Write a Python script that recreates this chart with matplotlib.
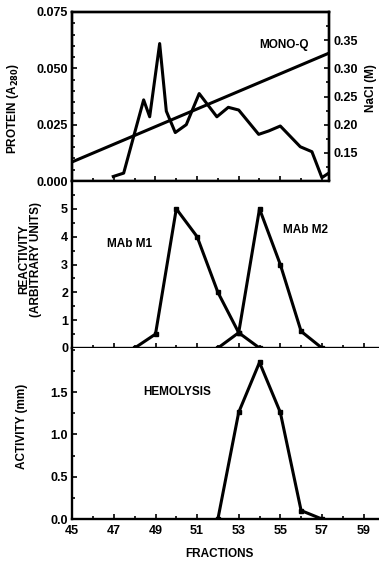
import numpy as np
import matplotlib.pyplot as plt
from matplotlib.ticker import MultipleLocator, FixedLocator

plt.rcParams['font.family'] = ['Liberation Sans', 'DejaVu Sans']
plt.rcParams['font.weight'] = 'bold'
plt.rcParams['axes.labelweight'] = 'bold'

# Mono-Q protein trace (A280)
protein_frac = [46.97, 47.47, 48.43, 48.72, 49.2, 49.52, 49.95, 50.48, 51.1,
                51.95, 52.5, 53.0, 53.96, 54.44, 55.0, 55.96, 56.52, 57.0, 57.33]
protein_a280 = [0.002, 0.0035, 0.036, 0.0285, 0.061, 0.031, 0.0215, 0.025, 0.0388,
                0.0285, 0.0327, 0.0315, 0.0207, 0.0222, 0.0244, 0.0152, 0.013, 0.0015, 0.0035]

# NaCl gradient (M)
nacl_frac = [45.0, 57.34]
nacl_m = [0.134, 0.327]

# MAb reactivity
m1_frac = [48, 49, 50, 51, 52, 53, 54]
m1_val = [0, 0.5, 5, 4, 2, 0.55, 0]
m2_frac = [52, 53, 54, 55, 56, 57]
m2_val = [0, 0.55, 5, 3, 0.6, 0]

# hemolysis activity
hemo_frac = [52, 53, 54, 55, 56, 57]
hemo_val = [0, 1.26, 1.85, 1.26, 0.1, 0]

xticks = [45, 47, 49, 51, 53, 55, 57, 59]

fig = plt.figure(figsize=(3.79, 5.61), dpi=100)
W, H = 379, 561
left = 72.3
px_per = 20.8

def box(x0, x1, ytop, ybot):
    return [x0 / W, 1 - ybot / H, (x1 - x0) / W, (ybot - ytop) / H]

ax1 = fig.add_axes(box(left, 329, 12, 181))
ax2 = fig.add_axes(box(left, 379, 181, 348))
ax3 = fig.add_axes(box(left, 379, 348, 519))

lw = 2.2
sw = 1.7

def style(ax):
    for s in ax.spines.values():
        s.set_linewidth(sw)
    ax.tick_params(which='both', direction='in', width=1.2, labelsize=9, pad=3)
    ax.tick_params(which='major', length=3.5)
    ax.tick_params(which='minor', length=2.5)
    ax.xaxis.set_major_locator(FixedLocator(xticks))
    ax.xaxis.set_minor_locator(MultipleLocator(1))

# top panel
ax1.plot(protein_frac, protein_a280, color='black', lw=lw)
ax1.set_xlim(45, 45 + (329 - left) / px_per)
ax1.set_ylim(0, 0.075)
ax1.set_yticks([0, 0.025, 0.05, 0.075])
ax1.set_yticklabels(['0.000', '0.025', '0.050', '0.075'])
ax1.yaxis.set_minor_locator(MultipleLocator(0.005))
style(ax1)
ax1.tick_params(labelbottom=False)
ax1.set_ylabel('PROTEIN (A$_{\\mathbf{280}}$)', fontsize=8.5)
ax1.yaxis.set_label_coords(-0.20, 0.43)
ax1.text(55.2, 0.0604, 'MONO-Q', ha='center', va='center', fontsize=8.5, fontweight='bold')

axr = ax1.twinx()
axr.plot(nacl_frac, nacl_m, color='black', lw=lw)
axr.set_ylim(0.10, 0.40)
axr.set_yticks([0.15, 0.20, 0.25, 0.30, 0.35])
axr.set_yticklabels(['0.15', '0.20', '0.25', '0.30', '0.35'])
axr.yaxis.set_minor_locator(MultipleLocator(0.025))
for s in axr.spines.values():
    s.set_linewidth(sw)
axr.tick_params(which='both', direction='in', width=1.2, labelsize=9, pad=3)
axr.tick_params(which='major', length=3.5)
axr.tick_params(which='minor', length=2.5)
axr.set_ylabel('NaCl (M)', fontsize=8.5)
axr.yaxis.set_label_coords(1.14, 0.55)

# middle panel
ax2.plot(m1_frac, m1_val, color='black', lw=lw, marker='s', ms=3.5)
ax2.plot(m2_frac, m2_val, color='black', lw=lw, marker='s', ms=3.5)
ax2.set_xlim(45, 45 + (379 - left) / px_per)
ax2.set_ylim(0, 6)
ax2.set_yticks([0, 1, 2, 3, 4, 5])
ax2.yaxis.set_minor_locator(MultipleLocator(0.5))
ax2.spines['top'].set_visible(False)
ax2.spines['right'].set_visible(False)
style(ax2)
ax2.tick_params(labelbottom=False)
ax2.set_ylabel('REACTIVITY\n(ARBITRARY UNITS)', fontsize=8.5, linespacing=1.0)
ax2.yaxis.set_label_coords(-0.099, 0.53)
ax2.text(47.77, 3.75, 'MAb M1', ha='center', va='center', fontsize=8.5, fontweight='bold')
ax2.text(56.19, 4.25, 'MAb M2', ha='center', va='center', fontsize=8.5, fontweight='bold')

# bottom panel
ax3.plot(hemo_frac, hemo_val, color='black', lw=lw, marker='s', ms=3.5)
ax3.set_xlim(45, 45 + (379 - left) / px_per)
ax3.set_ylim(0, 2.02)
ax3.set_yticks([0, 0.5, 1.0, 1.5])
ax3.set_yticklabels(['0.0', '0.5', '1.0', '1.5'])
ax3.yaxis.set_minor_locator(MultipleLocator(0.25))
ax3.spines['top'].set_visible(False)
ax3.spines['right'].set_visible(False)
style(ax3)
ax3.tick_params(axis='x', pad=4)
ax3.set_ylabel('ACTIVITY (mm)', fontsize=8.5)
ax3.yaxis.set_label_coords(-0.144, 0.54)
ax3.set_xlabel('FRACTIONS', fontsize=8.5)
ax3.xaxis.set_label_coords(0.48, -0.17)
ax3.text(50.06, 1.5, 'HEMOLYSIS', ha='center', va='center', fontsize=8.5, fontweight='bold')

for a in (ax1, axr, ax2, ax3):
    for lab in a.get_xticklabels() + a.get_yticklabels():
        lab.set_fontweight('bold')

fig.savefig('out.png', dpi=100)
